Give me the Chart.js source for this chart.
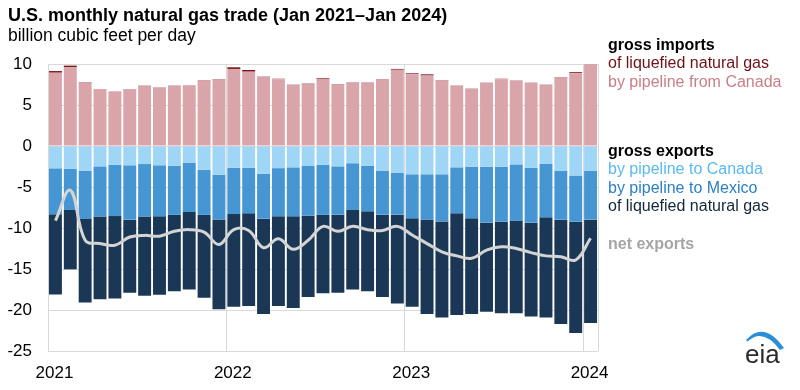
<!DOCTYPE html>
<html>
<head>
<meta charset="utf-8">
<script src="https://cdn.jsdelivr.net/npm/chart.js@4.4.1/dist/chart.umd.min.js"></script>
<style>
  body { margin: 0; background: #fff; font-family: "Liberation Sans", Arial, sans-serif; }
  #wrap { position: relative; width: 800px; height: 390px; overflow: hidden; }
  #chart { position: absolute; left: 0; top: 0; }
  .title { position: absolute; left: 8px; top: 3.7px; font-size: 18px; font-weight: bold; line-height: 22px; color: #000; white-space: nowrap; }
  .sub { position: absolute; left: 8px; top: 23.9px; font-size: 17.5px; line-height: 22px; color: #000; }
  .legend { position: absolute; left: 608px; font-size: 16px; color: #000; white-space: nowrap; }
  .legend b { font-weight: bold; }
  #logo { position: absolute; left: 738px; top: 326px; }
</style>
</head>
<body>
<div id="wrap">
  <canvas id="chart" width="800" height="390"></canvas>
  <div class="title">U.S. monthly natural gas trade (Jan 2021–Jan 2024)</div>
  <div class="sub">billion cubic feet per day</div>
  <div class="legend" style="top:35.6px; line-height:18.8px;">
    <div><b>gross imports</b></div>
    <div style="color:#6e1118">of liquefied natural gas</div>
    <div style="color:#c87f88">by pipeline from Canada</div>
  </div>
  <div class="legend" style="top:141.5px; line-height:18.5px;">
    <div><b>gross exports</b></div>
    <div style="color:#5ab9ee">by pipeline to Canada</div>
    <div style="color:#2c7fc3">by pipeline to Mexico</div>
    <div style="color:#13263a">of liquefied natural gas</div>
  </div>
  <div class="legend" style="top:233.6px; line-height:19px; color:#a5a5a5;"><b>net exports</b></div>
  <svg id="logo" width="56" height="52" viewBox="0 0 56 52">
    <path d="M 8 14 Q 26 -6 46 22 L 42 24 Q 25 1 9.5 15.5 Z" fill="#2a8fd6"/>
    <text x="7" y="37" font-family="Liberation Sans, Arial, sans-serif" font-size="26" fill="#2b2b2b">eia</text>
  </svg>
</div>
<script>
const months = [
  "Jan 2021", "Feb 2021", "Mar 2021", "Apr 2021", "May 2021", "Jun 2021",
  "Jul 2021", "Aug 2021", "Sep 2021", "Oct 2021", "Nov 2021", "Dec 2021",
  "Jan 2022", "Feb 2022", "Mar 2022", "Apr 2022", "May 2022", "Jun 2022",
  "Jul 2022", "Aug 2022", "Sep 2022", "Oct 2022", "Nov 2022", "Dec 2022",
  "Jan 2023", "Feb 2023", "Mar 2023", "Apr 2023", "May 2023", "Jun 2023",
  "Jul 2023", "Aug 2023", "Sep 2023", "Oct 2023", "Nov 2023", "Dec 2023",
  "Jan 2024"
];
const yearTicks = ["2021", "2022", "2023", "2024"];

// gross imports (positive)
const importPipeCanada = [
  8.94, 9.6, 7.72, 6.92, 6.6, 6.92, 7.33, 7.12, 7.33, 7.37, 8.0, 8.08,
  9.4, 9.07, 8.37, 8.15, 7.44, 7.65, 8.17, 7.51, 7.77, 7.74, 8.12, 9.3,
  8.76, 8.6, 8.0, 7.33, 6.95, 7.68, 8.15, 7.97, 7.68, 7.44, 8.35, 8.88,
  10.2
];
const importLng = [
  0.2, 0.2, 0.05, 0.03, 0.03, 0.03, 0.03, 0.03, 0.03, 0.03, 0.05, 0.05,
  0.2, 0.2, 0.08, 0.05, 0.03, 0.03, 0.08, 0.05, 0.03, 0.03, 0.05, 0.1,
  0.1, 0.14, 0.05, 0.03, 0.03, 0.03, 0.05, 0.03, 0.03, 0.03, 0.05, 0.12,
  0.1
];

// gross exports (negative)
const exportPipeCanada = [
  -2.72, -2.8, -3.0, -2.48, -2.3, -2.35, -2.2, -2.35, -2.4, -2.03, -2.9, -3.5,
  -2.65, -2.65, -3.4, -2.7, -2.6, -2.44, -2.3, -2.48, -2.1, -2.4, -3.05, -3.25,
  -3.45, -3.45, -3.45, -2.6, -2.52, -2.52, -2.52, -2.24, -2.64, -2.15, -3.0, -3.6,
  -3.0
];
const exportPipeMexico = [
  -5.61, -5.0, -5.9, -6.12, -6.25, -6.63, -6.4, -6.22, -6.0, -6.02, -5.5, -5.45,
  -5.65, -5.55, -5.46, -5.87, -5.97, -6.06, -6.1, -5.89, -5.7, -5.57, -5.32, -5.12,
  -5.37, -5.5, -5.75, -5.6, -6.3, -6.83, -6.71, -6.86, -6.71, -6.55, -5.98, -5.63,
  -5.98
];
const exportLng = [
  -9.77, -7.24, -10.2, -10.1, -10.05, -8.92, -9.65, -9.58, -9.3, -9.45, -10.1, -10.95,
  -11.3, -11.3, -11.64, -10.93, -11.18, -9.9, -9.57, -9.53, -9.7, -9.73, -10.03, -10.83,
  -10.78, -11.55, -11.7, -12.4, -11.68, -10.85, -11.17, -11.3, -11.45, -12.2, -12.72, -13.57,
  -12.62
];

const netExports = [
  -9.1, -5.4, -11.5, -11.9, -12.1, -11.1, -10.9, -11.0, -10.4, -10.2, -10.5, -12.0,
  -10.2, -10.3, -12.4, -11.3, -12.6, -11.5, -9.8, -10.4, -9.8, -10.2, -10.3, -9.8,
  -10.85, -11.9, -12.9, -13.4, -13.7, -12.7, -12.3, -12.5, -13.0, -13.4, -13.5, -13.9,
  -11.25
];

const gridColor = "#d9d9d9";

function bar(label, data, color) {
  return {
    type: "bar",
    label: label,
    data: data,
    backgroundColor: color,
    borderWidth: 0,
    barPercentage: 0.87,
    categoryPercentage: 1.0,
    order: 1,
  };
}

new Chart(document.getElementById("chart"), {
  data: {
    labels: months,
    datasets: [
      {
        type: "line",
        label: "net exports",
        data: netExports,
        borderColor: "#d4d4d4",
        borderWidth: 3,
        pointRadius: 0,
        tension: 0.4,
        fill: false,
        order: 0,
      },
      bar("by pipeline from Canada", importPipeCanada, "#d9a4aa"),
      bar("of liquefied natural gas (imports)", importLng, "#7c1519"),
      bar("by pipeline to Canada", exportPipeCanada, "#9fd5f5"),
      bar("by pipeline to Mexico", exportPipeMexico, "#4596d2"),
      bar("of liquefied natural gas (exports)", exportLng, "#1a3856"),
    ],
  },
  options: {
    responsive: false,
    animation: false,
    layout: { padding: { left: 0, right: 202, top: 64, bottom: 0 } },
    plugins: { legend: { display: false }, tooltip: { enabled: false } },
    scales: {
      x: {
        stacked: true,
        offset: true,
        grid: {
          offset: true,
          drawTicks: false,
          color: (ctx) =>
            ctx.index === undefined || ctx.index % 12 === 0 ? gridColor : "rgba(0,0,0,0)",
        },
        border: { display: false },
        ticks: {
          autoSkip: false,
          maxRotation: 0,
          padding: 12,
          labelOffset: -1,
          color: "#000",
          font: { family: "Liberation Sans", size: 17 },
          callback: (v, i) => (i % 12 === 0 ? yearTicks[i / 12] : ""),
        },
        afterFit: (s) => { s.height = 39; },
      },
      y: {
        stacked: true,
        min: -25,
        max: 10,
        ticks: {
          stepSize: 5,
          padding: 16,
          color: "#000",
          font: { family: "Liberation Sans", size: 17 },
        },
        grid: { drawTicks: false, color: gridColor },
        border: { display: false },
        afterFit: (s) => { s.width = 48; },
      },
    },
  },
});
</script>
</body>
</html>
